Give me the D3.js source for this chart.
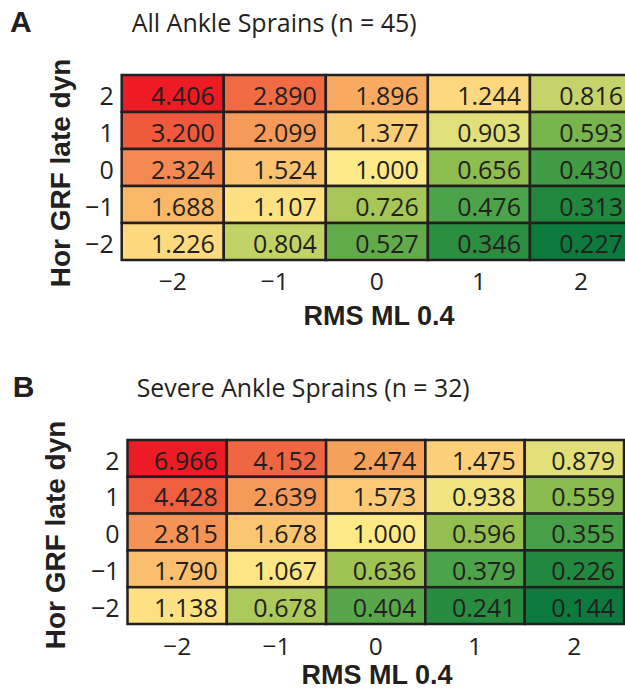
<!DOCTYPE html>
<html>
<head>
<meta charset="utf-8">
<script src="https://cdn.jsdelivr.net/npm/d3@7"></script>
<style>
  body { margin: 0; background: #fff; }
  svg { display: block; }
</style>
</head>
<body>
<script>
// levels of the two predictors (standardised)
let xLevels = [-2, -1, 0, 1, 2];
let yLevels = [2, 1, 0, -1, -2];

// odds ratios, rows top (y = 2) to bottom (y = -2)
let allSprains = [
  [4.406, 2.890, 1.896, 1.244, 0.816],
  [3.200, 2.099, 1.377, 0.903, 0.593],
  [2.324, 1.524, 1.000, 0.656, 0.430],
  [1.688, 1.107, 0.726, 0.476, 0.313],
  [1.226, 0.804, 0.527, 0.346, 0.227]
];
let severeSprains = [
  [6.966, 4.152, 2.474, 1.475, 0.879],
  [4.428, 2.639, 1.573, 0.938, 0.559],
  [2.815, 1.678, 1.000, 0.596, 0.355],
  [1.790, 1.067, 0.636, 0.379, 0.226],
  [1.138, 0.678, 0.404, 0.241, 0.144]
];

let panelLetters = ["A", "B"];
let panelTitles = ["All Ankle Sprains (n = 45)", "Severe Ankle Sprains (n = 32)"];
let xTitle = "RMS ML 0.4";
let yTitle = "Hor GRF late dyn";

let width = 625,
    height = 690,
    ink = "#231F20",
    numFont = "'Open Sans', 'Noto Sans', sans-serif",
    boldFont = "'Liberation Sans', Arial, sans-serif";

let fmtTick = d => d < 0 ? "\u2212" + Math.abs(d) : String(d);

// red - yellow - green, on log(odds ratio) scaled by the panel maximum
let colour = d3.scaleLinear()
    .domain([-1, -0.75, -0.5, -0.25, -0.1, 0, 0.15, 0.43, 0.57, 0.75, 1])
    .range(["#0C7A3D", "#24893F", "#4DA349", "#98C150", "#D4DA72", "#FDE987",
            "#FDD87E", "#F8AA60", "#F48A52", "#EF6340", "#ED1C24"])
    .clamp(true);

let svg = d3.select("body").append("svg")
    .attr("width", width)
    .attr("height", height);

let panels = [
  { values: allSprains, left: 121.7, right: 632, top: 75, bottom: 260,
    letterX: 10, letterY: 32.3, titleX: 131.7, titleY: 31.7, titleW: 285,
    yTitleX: 70, yTitleY: 173, xTitleX: 379, xTitleY: 325, tickY: 289.5 },
  { values: severeSprains, left: 127.5, right: 624, top: 440, bottom: 624,
    letterX: 12.7, letterY: 396.7, titleX: 136.7, titleY: 396.7, titleW: 333,
    yTitleX: 65, yTitleY: 535, xTitleX: 377, xTitleY: 684, tickY: 654.5 }
];

let drawPanel = (p, i) => {
  let x = d3.scaleBand().domain(xLevels).range([p.left, p.right]);
  let y = d3.scaleBand().domain(yLevels).range([p.top, p.bottom]);
  let maxLog = Math.log(d3.max(p.values.flat()));

  let cells = [];
  p.values.forEach((row, r) => row.forEach((v, c) => cells.push({ xv: xLevels[c], yv: yLevels[r], v: v })));

  let g = svg.append("g");

  g.selectAll("rect.cell")
    .data(cells)
    .enter()
    .append("rect")
    .attr("class", "cell")
    .attr("x", d => x(d.xv))
    .attr("y", d => y(d.yv))
    .attr("width", x.bandwidth())
    .attr("height", y.bandwidth())
    .attr("fill", d => colour(Math.log(d.v) / maxLog))
    .attr("stroke", ink)
    .attr("stroke-width", 2.5);

  g.selectAll("text.val")
    .data(cells)
    .enter()
    .append("text")
    .attr("class", "val")
    .attr("x", d => x(d.xv) + x.bandwidth() - 9)
    .attr("y", d => y(d.yv) + y.bandwidth() - 7.2)
    .attr("text-anchor", "end")
    .attr("font-family", numFont)
    .attr("font-size", 25)
    .attr("fill", ink)
    .text(d => d.v.toFixed(3));

  // y tick labels
  g.selectAll("text.ytick")
    .data(yLevels)
    .enter()
    .append("text")
    .attr("class", "ytick")
    .attr("x", p.left - 8)
    .attr("y", d => y(d) + y.bandwidth() - 7.2)
    .attr("text-anchor", "end")
    .attr("font-family", numFont)
    .attr("font-size", 25)
    .attr("fill", ink)
    .text(fmtTick);

  // x tick labels
  g.selectAll("text.xtick")
    .data(xLevels)
    .enter()
    .append("text")
    .attr("class", "xtick")
    .attr("x", d => x(d) + x.bandwidth() / 2)
    .attr("y", p.tickY)
    .attr("text-anchor", "middle")
    .attr("font-family", numFont)
    .attr("font-size", 24.5)
    .attr("fill", ink)
    .text(fmtTick);

  g.append("text")
    .attr("x", p.xTitleX)
    .attr("y", p.xTitleY)
    .attr("text-anchor", "middle")
    .attr("font-family", boldFont)
    .attr("font-weight", "bold")
    .attr("font-size", 27)
    .attr("fill", ink)
    .text(xTitle);

  g.append("text")
    .attr("transform", `translate(${p.yTitleX},${p.yTitleY}) rotate(-90)`)
    .attr("text-anchor", "middle")
    .attr("font-family", boldFont)
    .attr("font-weight", "bold")
    .attr("font-size", 28)
    .attr("fill", ink)
    .text(yTitle);

  g.append("text")
    .attr("x", p.letterX)
    .attr("y", p.letterY)
    .attr("font-family", boldFont)
    .attr("font-weight", "bold")
    .attr("font-size", 30)
    .attr("fill", ink)
    .text(panelLetters[i]);

  g.append("text")
    .attr("x", p.titleX)
    .attr("y", p.titleY)
    .attr("font-family", numFont)
    .attr("font-size", 25)
    .attr("textLength", p.titleW)
    .attr("lengthAdjust", "spacingAndGlyphs")
    .attr("fill", ink)
    .text(panelTitles[i]);
};

panels.forEach(drawPanel);
</script>
</body>
</html>
